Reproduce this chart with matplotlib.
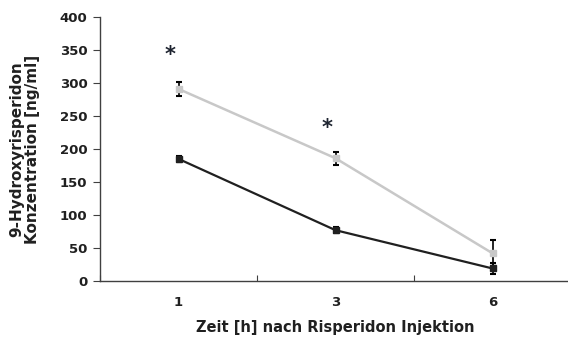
import matplotlib
matplotlib.use("Agg")
import matplotlib.pyplot as plt
import numpy as np

plt.rcParams['font.family'] = ['DejaVu Sans']

categories = ["1", "3", "6"]
gray_vals = [291, 186, 42]
gray_err = [10, 10, 20]
black_vals = [185, 77, 19]
black_err = [4, 5, 8]
star_labels = ["*", "*"]
star_y = [342, 232]

fig = plt.figure(figsize=(5.68, 3.47), dpi=100)
ax = fig.add_axes([100/568, 1-281/347, 471/568, 264/347])
x = np.arange(len(categories))

ax.errorbar(x, gray_vals, yerr=gray_err, color='#c8c8c8', lw=1.8, marker='s', ms=5,
            ecolor='black', elinewidth=1.2, capsize=2.5, capthick=1.5, zorder=3)
ax.errorbar(x, black_vals, yerr=black_err, color='#202020', lw=1.6, marker='s', ms=4.5,
            ecolor='black', elinewidth=1.2, capsize=2.5, capthick=1.5, zorder=4)
for i, (s, yv) in enumerate(zip(star_labels, star_y)):
    ax.annotate(s, (x[i], yv), xytext=(-6, 0), textcoords='offset points',
                ha='center', va='center', fontsize=15, fontweight='bold', color='#1e2430')

ax.set_xlim(-0.5, 2.5)
ax.set_ylim(0, 400)
ax.set_yticks(range(0, 401, 50))
ax.set_xticks([-0.5, 0.5, 1.5, 2.5])
ax.set_xticklabels([])
ax.set_xticks(x, minor=True)
ax.set_xticklabels(categories, minor=True)
ax.tick_params(axis='x', which='minor', length=0, pad=11, labelsize=9.5)
ax.tick_params(axis='x', which='major', length=4, direction='in', color='#404040')
ax.tick_params(axis='y', length=5, direction='out', color='#404040', labelsize=9.5, pad=4)
for lab in ax.get_yticklabels() + ax.get_xticklabels(minor=True):
    lab.set_fontweight('bold')
    lab.set_color('#202020')
for s in ['top', 'right']:
    ax.spines[s].set_visible(False)
for s in ['left', 'bottom']:
    ax.spines[s].set_color('#404040')
    ax.spines[s].set_linewidth(1.0)
ax.spines['bottom'].set_clip_on(False)

ax.set_ylabel("9-Hydroxyrisperidon\nKonzentration [ng/ml]", fontsize=11, fontweight='bold',
              color='#202020', labelpad=14, linespacing=1.1)
ax.set_xlabel("Zeit [h] nach Risperidon Injektion", fontsize=10.5, fontweight='bold',
              color='#202020', labelpad=8)

fig.savefig("out.png", dpi=100)
